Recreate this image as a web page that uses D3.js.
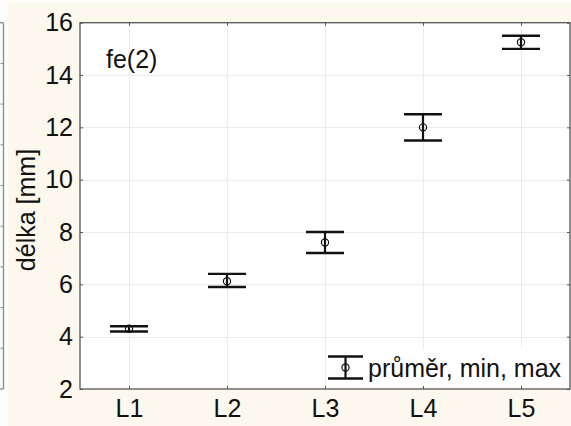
<!DOCTYPE html>
<html>
<head>
<meta charset="utf-8">
<script src="https://cdn.jsdelivr.net/npm/d3@7"></script>
<style>
  html, body { margin: 0; padding: 0; background: #fefdf9; }
  svg { display: block; }
  text { font-family: "Liberation Sans", Arial, sans-serif; fill: #111; }
</style>
</head>
<body>
<svg id="chart" width="571" height="426"></svg>
<script>
// Lengths per group: mean with min/max range
const categories = ["L1", "L2", "L3", "L4", "L5"];
const meanValues = [4.3, 6.12, 7.6, 12.0, 15.25];
const minValues  = [4.2, 5.9, 7.2, 11.5, 15.0];
const maxValues  = [4.4, 6.4, 8.0, 12.5, 15.5];
const yTickValues = [2, 4, 6, 8, 10, 12, 14, 16];
const panelTitle = "fe(2)";
const yTitle = "délka [mm]";
const legendLabel = "průměr, min, max";

const W = 571, H = 426;
const plot = { left: 80, right: 570, top: 22.7, bottom: 389 };
const fontSize = 25;

const svg = d3.select("#chart");

// panel backgrounds
svg.append("rect").attr("x", 0).attr("y", 0).attr("width", W).attr("height", H).attr("fill", "#fefdf9");
svg.append("rect").attr("x", 8).attr("y", 3).attr("width", W - 8).attr("height", H - 3).attr("fill", "#fdf8ed");

// edge of the neighbouring panel on the left
const sideScale = d3.scaleLinear().domain([0, 9]).range([plot.bottom, plot.top]);
const side = svg.append("g").attr("transform", "translate(3.5,0)");
side.append("line").attr("x1", 0).attr("x2", 0)
  .attr("y1", sideScale(0)).attr("y2", sideScale(9))
  .attr("stroke", "#8a8a8a").attr("stroke-width", 1.3);
side.append("line").attr("x1", -4).attr("x2", 0)
  .attr("y1", sideScale(9)).attr("y2", sideScale(9))
  .attr("stroke", "#8a8a8a").attr("stroke-width", 1.3);
side.append("line").attr("x1", -4).attr("x2", 0)
  .attr("y1", sideScale(0)).attr("y2", sideScale(0))
  .attr("stroke", "#8a8a8a").attr("stroke-width", 1.3);
side.selectAll("line.t").data(d3.range(1, 9)).join("line")
  .attr("class", "t")
  .attr("x1", -3).attr("x2", 0)
  .attr("y1", d => sideScale(d)).attr("y2", d => sideScale(d))
  .attr("stroke", "#8a8a8a").attr("stroke-width", 1);

// scales
const x = d3.scalePoint().domain(categories).range([plot.left, plot.right]).padding(0.5);
const y = d3.scaleLinear().domain([2, 16]).range([plot.bottom, plot.top]);

// plot area
svg.append("rect")
  .attr("x", plot.left).attr("y", plot.top)
  .attr("width", plot.right - plot.left).attr("height", plot.bottom - plot.top)
  .attr("fill", "#ffffff");

// grid
const grid = svg.append("g").attr("stroke", "#ebebeb").attr("stroke-width", 1);
grid.selectAll("line.h").data(yTickValues.slice(1, -1)).join("line")
  .attr("class", "h")
  .attr("x1", plot.left).attr("x2", plot.right)
  .attr("y1", d => Math.round(y(d)) + 0.5).attr("y2", d => Math.round(y(d)) + 0.5);
grid.selectAll("line.v").data(categories).join("line")
  .attr("class", "v")
  .attr("x1", d => Math.round(x(d)) + 0.5).attr("x2", d => Math.round(x(d)) + 0.5)
  .attr("y1", plot.top).attr("y2", plot.bottom);

// legend background
const legend = svg.append("g");
legend.append("rect")
  .attr("x", 326).attr("y", 348).attr("width", 242).attr("height", 39)
  .attr("fill", "#ffffff");

// axes: inward ticks on all four sides
const tickLen = 3;
const axisStyle = g => {
  g.select(".domain").remove();
  g.selectAll(".tick line").attr("stroke", "#555").attr("stroke-width", 1);
  g.selectAll(".tick text").attr("font-size", fontSize).attr("fill", "#111")
    .attr("font-family", "Liberation Sans, Arial, sans-serif");
};

svg.append("g").attr("transform", `translate(${plot.left},0)`)
  .call(d3.axisLeft(y).tickValues(yTickValues).tickSize(-tickLen).tickPadding(7))
  .call(axisStyle);
svg.append("g").attr("transform", `translate(${plot.right},0)`)
  .call(d3.axisRight(y).tickValues(yTickValues).tickSize(-tickLen).tickFormat(""))
  .call(axisStyle);
svg.append("g").attr("transform", `translate(0,${plot.bottom})`)
  .call(d3.axisBottom(x).tickSize(-tickLen).tickPadding(10))
  .call(axisStyle);
svg.append("g").attr("transform", `translate(0,${plot.top})`)
  .call(d3.axisTop(x).tickSize(-tickLen).tickFormat(""))
  .call(axisStyle);

// frame
svg.append("rect")
  .attr("x", plot.left).attr("y", plot.top)
  .attr("width", plot.right - plot.left).attr("height", plot.bottom - plot.top)
  .attr("fill", "none").attr("stroke", "#555").attr("stroke-width", 1.3);

// mean / min / max markers
const capHalf = 19;
const rows = categories.map((c, i) => ({ c, mean: meanValues[i], min: minValues[i], max: maxValues[i] }));
const marks = svg.append("g").attr("stroke", "#111");
const mk = marks.selectAll("g").data(rows).join("g");
mk.append("line")
  .attr("x1", d => x(d.c)).attr("x2", d => x(d.c))
  .attr("y1", d => y(d.min)).attr("y2", d => y(d.max))
  .attr("stroke-width", 2.2);
mk.append("line")
  .attr("x1", d => x(d.c) - capHalf).attr("x2", d => x(d.c) + capHalf)
  .attr("y1", d => y(d.min)).attr("y2", d => y(d.min))
  .attr("stroke-width", 2.4);
mk.append("line")
  .attr("x1", d => x(d.c) - capHalf).attr("x2", d => x(d.c) + capHalf)
  .attr("y1", d => y(d.max)).attr("y2", d => y(d.max))
  .attr("stroke-width", 2.4);
mk.append("circle")
  .attr("cx", d => x(d.c)).attr("cy", d => y(d.mean)).attr("r", 3.6)
  .attr("fill", "none").attr("stroke-width", 1.2);

// legend symbol and label
const lx = 345.5, lTop = 356.5, lBot = 378.5, lHalf = 17.5;
const ls = legend.append("g").attr("stroke", "#111");
ls.append("line").attr("x1", lx).attr("x2", lx).attr("y1", lTop).attr("y2", lBot).attr("stroke-width", 2.2);
ls.append("line").attr("x1", lx - lHalf).attr("x2", lx + lHalf).attr("y1", lTop).attr("y2", lTop).attr("stroke-width", 2.4);
ls.append("line").attr("x1", lx - lHalf).attr("x2", lx + lHalf).attr("y1", lBot).attr("y2", lBot).attr("stroke-width", 2.4);
ls.append("circle").attr("cx", lx).attr("cy", (lTop + lBot) / 2).attr("r", 3.6)
  .attr("fill", "none").attr("stroke-width", 1.2);
legend.append("text")
  .attr("x", 368).attr("y", 377)
  .attr("font-size", fontSize)
  .text(legendLabel);

// panel title
svg.append("text")
  .attr("x", 106).attr("y", 68)
  .attr("font-size", fontSize)
  .text(panelTitle);

// y axis title
svg.append("text")
  .attr("transform", "translate(35,210) rotate(-90)")
  .attr("text-anchor", "middle")
  .attr("font-size", fontSize)
  .text(yTitle);
</script>
</body>
</html>
